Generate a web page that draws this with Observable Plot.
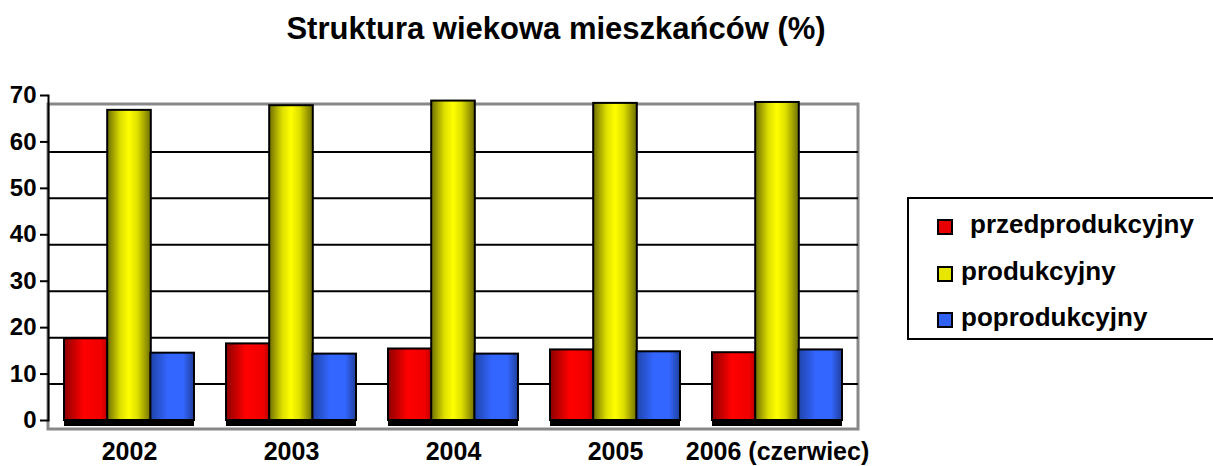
<!DOCTYPE html>
<html>
<head>
<meta charset="utf-8">
<script src="https://cdn.jsdelivr.net/npm/d3@7"></script>
<script src="https://cdn.jsdelivr.net/npm/@observablehq/plot@0.6"></script>
<style>
  html, body { margin: 0; padding: 0; background: #fff; }
  body { width: 1213px; height: 466px; overflow: hidden; position: relative; font-family: "Liberation Sans", Arial, sans-serif; }
  #title { position: absolute; left: 0; width: 1112px; top: 11px; text-align: center; font-weight: bold; font-size: 31px; color: #000; }
  #chart { position: absolute; left: 0; top: 0; }
  #legend { position: absolute; left: 907px; top: 197px; width: 330px; height: 143px; border: 2px solid #000; box-sizing: border-box; }
  .item { position: absolute; font-weight: bold; font-size: 26px; color: #000; line-height: 26px; white-space: nowrap; }
  .sw { position: absolute; width: 12px; height: 12px; border: 2px solid #000; }
</style>
</head>
<body>
<div id="title">Struktura wiekowa mieszkańców (%)</div>
<div id="chart"></div>
<div id="legend"></div>
<script>
const years = ["2002", "2003", "2004", "2005", "2006 (czerwiec)"];
const series = ["przedprodukcyjny", "produkcyjny", "poprodukcyjny"];
const przed = [17.6, 16.5, 15.4, 15.2, 14.6];
const prod = [66.8, 67.8, 68.8, 68.3, 68.5];
const post = [14.5, 14.3, 14.3, 14.8, 15.2];
const yTicks = [0, 10, 20, 30, 40, 50, 60, 70];
const gridTicks = [10, 20, 30, 40, 50, 60];

const W = 870, H = 466, mL = 48, mR = 12, mT = 95, mB = 46;
const padIn = 0.2, padOut = 0.1;
const step = (W - mL - mR) / (years.length - padIn + 2 * padOut);
const bw = step * (1 - padIn);
const third = bw / 3;

const rows = (vals) => years.map((y, i) => ({year: y, value: vals[i]}));

const barStyle = {stroke: "#000", strokeWidth: 2};
const plot = Plot.plot({
  width: W, height: H,
  marginLeft: mL, marginRight: mR, marginTop: mT, marginBottom: mB,
  style: {fontFamily: "Liberation Sans, Arial, sans-serif", fontWeight: "bold", color: "#000", background: "transparent", overflow: "visible"},
  x: {type: "band", domain: years, paddingInner: padIn, paddingOuter: padOut, label: null},
  y: {domain: [0, 70], label: null},
  marks: [
    Plot.rect([0], {y1: 0, y2: 70, dy: 9, fill: "none", stroke: "#888", strokeWidth: 3}),
    Plot.ruleY(gridTicks, {dy: 10, stroke: "#000", strokeWidth: 2}),
    Plot.barY(rows(przed), {x: "year", y: "value", insetRight: 2 * third, fill: "url(#gR)", ...barStyle}),
    Plot.barY(rows(prod), {x: "year", y: "value", insetLeft: third, insetRight: third, fill: "url(#gY)", ...barStyle}),
    Plot.barY(rows(post), {x: "year", y: "value", insetLeft: 2 * third, fill: "url(#gB)", ...barStyle}),
    Plot.tickY(years, {x: d => d, y: () => 0, dy: 3, stroke: "#000", strokeWidth: 5}),
    Plot.frame({anchor: "left", stroke: "#000", strokeWidth: 2}),
    Plot.axisY(yTicks, {tickSize: 8, tickPadding: 4, fontSize: 24, fontWeight: "bold", strokeWidth: 2}),
    Plot.axisX({tickSize: 0, tickPadding: 22, fontSize: 25, fontWeight: "bold"})
  ]
});

const defs = `
<defs>
  <linearGradient id="gR" x1="0" x2="1" y1="0" y2="0">
    <stop offset="0" stop-color="#8c0000"/>
    <stop offset="0.45" stop-color="#ff0000"/>
    <stop offset="0.85" stop-color="#f00000"/>
    <stop offset="1" stop-color="#b80000"/>
  </linearGradient>
  <linearGradient id="gY" x1="0" x2="1" y1="0" y2="0">
    <stop offset="0" stop-color="#6e6e00"/>
    <stop offset="0.3" stop-color="#dede00"/>
    <stop offset="0.5" stop-color="#ffff00"/>
    <stop offset="0.7" stop-color="#dede00"/>
    <stop offset="1" stop-color="#6e6e00"/>
  </linearGradient>
  <linearGradient id="gB" x1="0" x2="1" y1="0" y2="0">
    <stop offset="0" stop-color="#1f44a8"/>
    <stop offset="0.4" stop-color="#3366ff"/>
    <stop offset="0.75" stop-color="#3366ff"/>
    <stop offset="1" stop-color="#1f3f9a"/>
  </linearGradient>
</defs>`;
plot.insertAdjacentHTML("afterbegin", defs);
document.getElementById("chart").appendChild(plot);

const legend = document.getElementById("legend");
const swColors = ["#e80000", "#e6e600", "#2f62f0"];
const baselines = [233, 280, 326];
const textLeft = [970, 961, 961];
series.forEach((s, i) => {
  const sw = document.createElement("div");
  sw.className = "sw";
  sw.style.left = (937 - 909) + "px";
  sw.style.top = (baselines[i] - 14 - 199) + "px";
  sw.style.background = swColors[i];
  legend.appendChild(sw);
  const t = document.createElement("div");
  t.className = "item";
  t.style.left = (textLeft[i] - 909) + "px";
  t.style.top = (baselines[i] - 22 - 199) + "px";
  t.textContent = s;
  legend.appendChild(t);
});
</script>
</body>
</html>
